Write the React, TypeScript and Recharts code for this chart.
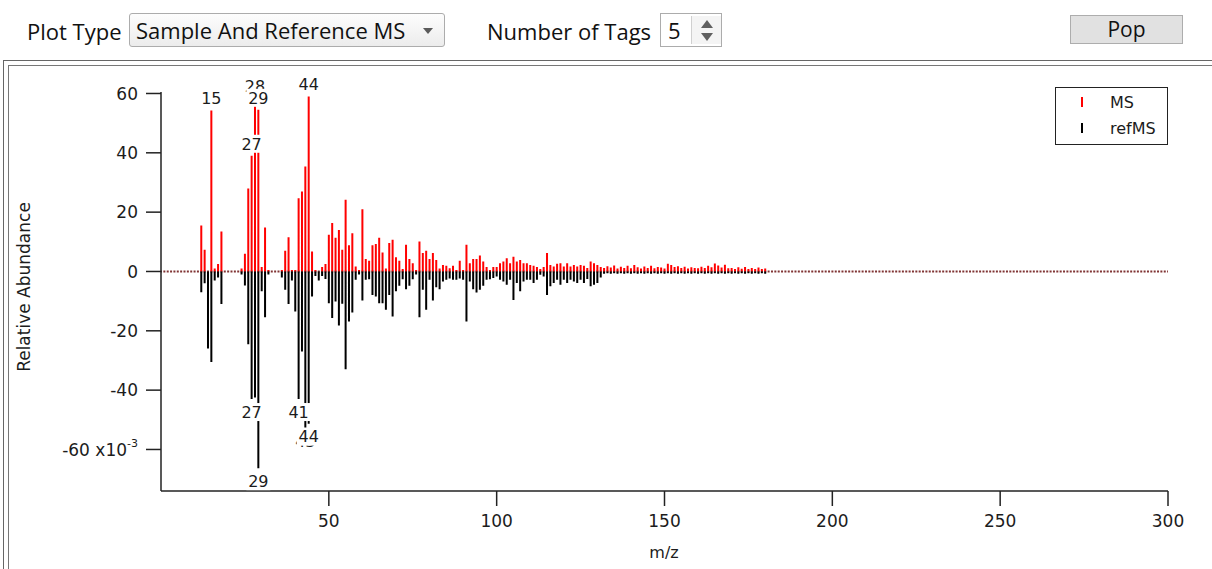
import React from 'react';
import { LineChart, Line, XAxis, YAxis, ReferenceLine, Legend } from 'recharts';

const mzValues = [
  12, 13, 14, 15, 16, 17, 18, 19, 20, 21,
  22, 23, 24, 25, 26, 27, 28, 29, 30, 31,
  32, 33, 34, 35, 36, 37, 38, 39, 40, 41,
  42, 43, 44, 45, 46, 47, 48, 49, 50, 51,
  52, 53, 54, 55, 56, 57, 58, 59, 60, 61,
  62, 63, 64, 65, 66, 67, 68, 69, 70, 71,
  72, 73, 74, 75, 76, 77, 78, 79, 80, 81,
  82, 83, 84, 85, 86, 87, 88, 89, 90, 91,
  92, 93, 94, 95, 96, 97, 98, 99, 100, 101,
  102, 103, 104, 105, 106, 107, 108, 109, 110, 111,
  112, 113, 114, 115, 116, 117, 118, 119, 120, 121,
  122, 123, 124, 125, 126, 127, 128, 129, 130, 131,
  132, 133, 134, 135, 136, 137, 138, 139, 140, 141,
  142, 143, 144, 145, 146, 147, 148, 149, 150, 151,
  152, 153, 154, 155, 156, 157, 158, 159, 160, 161,
  162, 163, 164, 165, 166, 167, 168, 169, 170, 171,
  172, 173, 174, 175, 176, 177, 178, 179, 180,
];

const msValues = [
  15.5, 7.3, 0, 54.3, 1, 2.5, 13.5, 0, 0, 0,
  0, 0, 1, 6, 28, 39, 58.3, 54.5, 1.5, 14.8,
  0.5, 0, 0, 0, 0.5, 7, 11.5, 0.5, 0.5, 24.7,
  27, 35.4, 59, 6.7, 0.5, 0, 1.5, 2.5, 12.4, 16.3,
  11.4, 14, 7.3, 24.2, 8.8, 12.9, 1.7, 0.5, 21, 4.2,
  3.6, 8.8, 9.3, 11.4, 6.4, 1, 9.6, 10.7, 4.8, 3.6,
  0.8, 9, 4.2, 2.8, 0.5, 10.1, 6.2, 7, 4.2, 6.2,
  3.9, 1, 2.2, 1.9, 1.1, 1.9, 0.5, 3.6, 0.5, 9,
  2.8, 4.2, 4.2, 5.4, 3.4, 1.5, 0.5, 1.5, 1.5, 2.8,
  3.4, 4.5, 2.8, 5, 3.4, 3.9, 2.8, 2.8, 2.2, 1.9,
  1.5, 0.8, 1.5, 6.2, 2.2, 1.7, 2.6, 2.8, 1.7, 2.8,
  1.7, 2.2, 1.7, 2.2, 1.9, 1.2, 3.4, 2.8, 2.2, 1.5,
  1.2, 1.8, 1.3, 2.0, 1.0, 1.6, 1.2, 1.9, 1.1, 2.2,
  1.4, 1.0, 1.7, 1.2, 1.9, 1.1, 1.5, 1.3, 1.0, 2.6,
  2.2, 1.5, 1.8, 1.2, 1.6, 1.0, 1.4, 1.2, 1.1, 1.6,
  1.2, 1.9, 1.4, 2.7, 2.0, 1.3, 2.3, 1.1, 1.2, 0.8,
  1.4, 0.9, 1.5, 0.8, 1.2, 0.8, 1.3, 0.8, 1.0,
];

const refMsValues = [
  -7, -4, -26, -30.5, -3, -2, -11, 0, 0, 0,
  0, 0, -1, -4.7, -24.5, -43, -42.5, -66.3, -6.7, -15.4,
  -1, 0, 0, 0, -2, -6.2, -11, -3, -13.5, -43,
  -27, -52.7, -51.3, -8.4, -1.5, -3, -1.5, -2.5, -10.7, -15.7,
  -10.1, -18.2, -10.9, -33, -16.9, -13.8, -2.8, -1, -9.8, -2.8,
  -2.6, -7.9, -8.4, -10.7, -10.7, -12.9, -7.9, -15.2, -6.7, -4.8,
  -2.6, -6, -4.8, -2.6, -1, -15.4, -6.2, -12.9, -2.8, -9.8,
  -5.3, -6, -3.4, -2.8, -2.4, -2.8, -2.8, -2.4, -2.8, -16.9,
  -3.4, -6, -7.1, -6.2, -4.8, -2.8, -2.6, -2.2, -1.7, -2.8,
  -3.4, -4.5, -2.8, -9.6, -3.9, -6.7, -3.4, -2.8, -2.8, -3.9,
  -2.8, -1.1, -1.7, -7.9, -5, -3.9, -2.8, -4.5, -2.8, -3.9,
  -2.8, -3.4, -3.9, -2.8, -3.9, -2.5, -5, -4.5, -3.9, -2,
  -0.8, -0.6, -0.8, -0.6, -0.8, -0.6, -0.8, -0.6, -0.8, -0.6,
  -0.8, -0.6, -0.8, -0.6, -0.8, -0.6, -0.8, -0.6, -0.8, -0.6,
  -0.8, -0.6, -0.8, -0.6, -0.8, -0.6, -0.8, -0.6, -0.8, -0.6,
  -0.8, -0.6, -0.8, -0.6, -0.8, -0.6, -0.8, -0.6, -0.8, -0.6,
  -0.8, -0.6, -0.8, -0.6, -0.8, -0.6, -0.8, -0.6, -0.8,
];

const msTagged = [15, 27, 28, 29, 44];
const refTagged = [27, 29, 41, 43, 44];
const xTickValues = [50, 100, 150, 200, 250, 300];
const yTickValues = [-60, -40, -20, 0, 20, 40, 60];

// stick spectrum: each m/z becomes base (0) -> peak -> break (null)
const chartData: any[] = [];
mzValues.forEach((mz, i) => {
  chartData.push({ mz, ms: 0, ref: 0, peak: false });
  chartData.push({ mz, ms: msValues[i], ref: refMsValues[i], peak: true });
  chartData.push({ mz, ms: null, ref: null, peak: false });
});

const TXT = '#1c1c1c';
const FONT = "'DejaVu Sans', sans-serif";
const UI_FONT = "'Open Sans', sans-serif";

function tagDot(tags: number[], up: boolean, prefix: string) {
  return (props: any) => {
    const { cx, cy, payload, index } = props;
    const key = prefix + index;
    if (!payload || !payload.peak || cx == null || cy == null || !tags.includes(payload.mz)) {
      return <g key={key} />;
    }
    const mz = payload.mz;
    const ty = up ? cy - 12 : cy + 13;
    const w = String(mz).length * 10 + 4;
    return (
      <g key={key}>
        <rect x={cx - w / 2} y={ty - 9} width={w} height={18} fill="#fff" />
        <text x={cx} y={ty} dy="0.36em" textAnchor="middle" fontFamily={FONT} fontSize={16} fill={TXT}>
          {mz}
        </text>
      </g>
    );
  };
}

const renderYTick = (props: any) => {
  const { x, y, payload } = props;
  const v = payload.value;
  if (v === -60) {
    return (
      <text x={x} y={y} dy="0.36em" textAnchor="end" fontFamily={FONT} fontSize={17} fill={TXT}>
        -60 x10<tspan dy={-9} fontSize={11}>-3</tspan>
      </text>
    );
  }
  return (
    <text x={x} y={y} dy="0.36em" textAnchor="end" fontFamily={FONT} fontSize={17} fill={TXT}>
      {v}
    </text>
  );
};

const renderXTick = (props: any) => {
  const { x, y, payload } = props;
  return (
    <text x={x} y={y + 15} dy="0.36em" textAnchor="middle" fontFamily={FONT} fontSize={17} fill={TXT}>
      {payload.value}
    </text>
  );
};

const renderLegend = (props: any) => {
  const items = props.payload || [];
  return (
    <div
      style={{
        width: 113,
        height: 58,
        border: '1.5px solid #222',
        background: '#fff',
        boxSizing: 'border-box',
        paddingTop: 1,
        fontFamily: FONT,
        fontSize: 16,
        color: TXT,
      }}
    >
      {items.map((it: any) => (
        <div key={String(it.value)} style={{ display: 'flex', alignItems: 'center', height: 26 }}>
          <span
            style={{ display: 'inline-block', width: 2, height: 10, background: it.color, marginLeft: 25, marginRight: 27 }}
          />
          <span>{it.value}</span>
        </div>
      ))}
    </div>
  );
};

export default function App() {
  return (
    <div style={{ position: 'absolute', left: 0, top: 0, width: 1212, height: 569, overflow: 'hidden', background: '#fff' }}>
      {/* controls */}
      <div style={{ position: 'absolute', left: 27, top: 14, height: 34, lineHeight: '34px', fontFamily: UI_FONT, fontSize: 22, color: '#111', whiteSpace: 'nowrap' }}>
        Plot Type
      </div>
      <div
        style={{
          position: 'absolute',
          left: 129,
          top: 13,
          width: 316,
          height: 34,
          boxSizing: 'border-box',
          border: '1px solid #acacac',
          borderRadius: 3,
          background: 'linear-gradient(#fdfdfd, #ececec)',
        }}
      >
        <div style={{ position: 'absolute', left: 6, top: 0, lineHeight: '32px', fontFamily: UI_FONT, fontSize: 22, color: '#111', whiteSpace: 'nowrap' }}>
          Sample And Reference MS
        </div>
        <div
          style={{
            position: 'absolute',
            left: 293,
            top: 14,
            width: 0,
            height: 0,
            borderLeft: '5px solid transparent',
            borderRight: '5px solid transparent',
            borderTop: '6px solid #5a5a5a',
          }}
        />
      </div>
      <div style={{ position: 'absolute', left: 487, top: 14, height: 34, lineHeight: '34px', fontFamily: UI_FONT, fontSize: 22, color: '#111', whiteSpace: 'nowrap' }}>
        Number of Tags
      </div>
      <div
        style={{
          position: 'absolute',
          left: 660,
          top: 13,
          width: 62,
          height: 34,
          boxSizing: 'border-box',
          border: '1px solid #acacac',
          background: '#fff',
        }}
      >
        <div style={{ position: 'absolute', left: 7, top: 0, lineHeight: '32px', fontFamily: UI_FONT, fontSize: 22, color: '#111' }}>5</div>
        <div style={{ position: 'absolute', left: 30, top: 2, width: 29, height: 28, borderLeft: '1px solid #d0d0d0', background: '#f4f4f4' }}>
          <div
            style={{
              position: 'absolute',
              left: 9,
              top: 4,
              width: 0,
              height: 0,
              borderLeft: '6px solid transparent',
              borderRight: '6px solid transparent',
              borderBottom: '8px solid #606060',
            }}
          />
          <div
            style={{
              position: 'absolute',
              left: 9,
              top: 17,
              width: 0,
              height: 0,
              borderLeft: '6px solid transparent',
              borderRight: '6px solid transparent',
              borderTop: '8px solid #606060',
            }}
          />
        </div>
      </div>
      <div
        style={{
          position: 'absolute',
          left: 1070,
          top: 15,
          width: 113,
          height: 29,
          boxSizing: 'border-box',
          border: '1px solid #adadad',
          background: '#e1e1e1',
          textAlign: 'center',
          lineHeight: '27px',
          fontFamily: UI_FONT,
          fontSize: 21,
          color: '#111',
        }}
      >
        Pop
      </div>

      {/* frame */}
      <div style={{ position: 'absolute', left: 3, top: 60, width: 1230, height: 520, border: '1.5px solid #666', boxSizing: 'border-box' }} />
      <div style={{ position: 'absolute', left: 8, top: 65, width: 1230, height: 520, border: '1px solid #777', boxSizing: 'border-box' }} />

      {/* axis titles */}
      <div
        style={{
          position: 'absolute',
          left: 24,
          top: 287,
          transform: 'translate(-50%, -50%) rotate(-90deg)',
          fontFamily: FONT,
          fontSize: 17,
          color: TXT,
          whiteSpace: 'nowrap',
          lineHeight: '20px',
        }}
      >
        Relative Abundance
      </div>
      <div
        style={{
          position: 'absolute',
          left: 664,
          top: 553,
          transform: 'translate(-50%, -50%)',
          fontFamily: FONT,
          fontSize: 16,
          color: TXT,
          whiteSpace: 'nowrap',
          lineHeight: '20px',
        }}
      >
        m/z
      </div>

      {/* chart */}
      <div style={{ position: 'absolute', left: 0, top: 0 }}>
        <LineChart width={1212} height={569} data={chartData} margin={{ top: 92, right: 44, bottom: 48, left: 101 }}>
          <XAxis
            dataKey="mz"
            type="number"
            domain={[0, 300]}
            ticks={xTickValues}
            interval={0}
            height={30}
            tickSize={15}
            tickMargin={0}
            tick={renderXTick}
            axisLine={{ stroke: '#222', strokeWidth: 1.5 }}
            tickLine={{ stroke: '#222', strokeWidth: 1.5 }}
          />
          <YAxis
            type="number"
            domain={[-74, 60.5]}
            ticks={yTickValues}
            interval={0}
            width={60}
            tickSize={15}
            tickMargin={8}
            tick={renderYTick}
            axisLine={{ stroke: '#222', strokeWidth: 1.5 }}
            tickLine={{ stroke: '#222', strokeWidth: 1.5 }}
          />
          <ReferenceLine y={0} stroke="#803434" strokeWidth={2} strokeDasharray="2 1.357" strokeDashoffset={1} />
          <Line
            dataKey="ms"
            name="MS"
            type="linear"
            stroke="#ff0000"
            strokeWidth={2}
            connectNulls={false}
            dot={tagDot(msTagged, true, 'm')}
            activeDot={false}
            isAnimationActive={false}
          />
          <Line
            dataKey="ref"
            name="refMS"
            type="linear"
            stroke="#000000"
            strokeWidth={2}
            connectNulls={false}
            dot={tagDot(refTagged, false, 'r')}
            activeDot={false}
            isAnimationActive={false}
          />
          <Legend
            layout="vertical"
            align="center"
            verticalAlign="middle"
            wrapperStyle={{ left: 1055, top: 87, width: 113, height: 58 }}
            content={renderLegend}
          />
        </LineChart>
      </div>
    </div>
  );
}
